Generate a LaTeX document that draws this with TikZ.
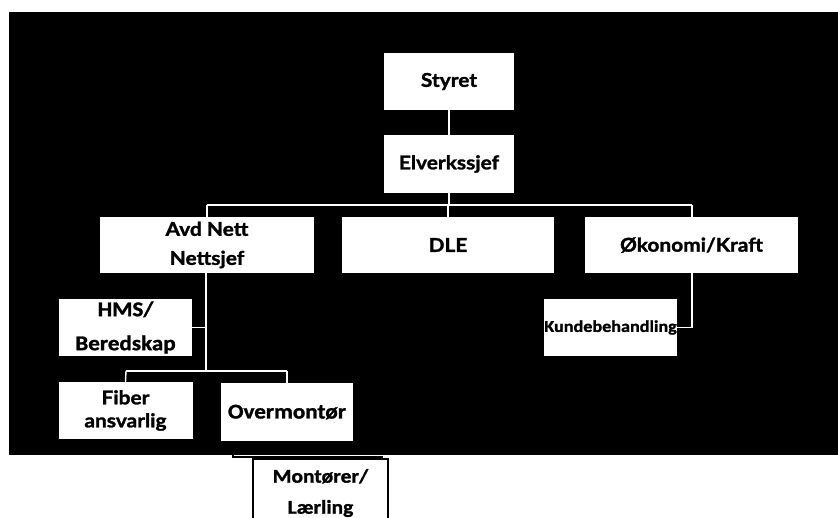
\documentclass[tikz,border=0pt]{standalone}
\usepackage{fontspec}
\setmainfont{Lato}[FakeStretch=1.1,BoldFeatures={FakeBold=1.5}]
\newfontfamily\calib{Carlito}[FakeStretch=1.1,BoldFeatures={FakeBold=1.2}]
\begin{document}
\begin{tikzpicture}[x=1pt,y=1pt,
  box/.style={draw=none,fill=white,rectangle,inner sep=0pt,align=center,
    font=\fontsize{19}{29}\selectfont\bfseries},
  cbox/.style={box,font=\calib\fontsize{21}{34}\selectfont\bfseries},
  link/.style={draw=white,line width=1.4pt},
  blink/.style={draw=black,line width=1.2pt}]
\useasboundingbox (0,0) rectangle (838,518);
\fill[black] (9,63) rectangle (838,506);
\node[box,minimum width=130,minimum height=57] (styret) at (449,436.5) {Styret};
\node[box,minimum width=130,minimum height=58] (elv) at (449,354) {Elverkssjef};
\node[box,minimum width=214,minimum height=56] (avd) at (207,273) {Avd Nett\\Nettsjef};
\node[box,minimum width=212,minimum height=56] (dle) at (448,273) {DLE};
\node[box,minimum width=213,minimum height=56] (oko) at (691.5,273) {Økonomi/Kraft};
\node[cbox,minimum width=133,minimum height=57] (hms) at (125.5,190.5) {HMS/\\Beredskap};
\node[cbox,font=\calib\fontsize{16.5}{20}\selectfont\bfseries,minimum width=131,minimum height=57] (kunde) at (610.5,190.5) {Kundebehandling};
\node[box,font=\fontsize{19}{23}\selectfont\bfseries,minimum width=134,minimum height=57] (fiber) at (125.5,107.5) {Fiber\\ansvarlig};
\node[cbox,minimum width=132,minimum height=58] (over) at (287,106) {Overmontør};
\node[cbox,font=\calib\fontsize{19.5}{31}\selectfont\bfseries,draw=black,line width=1.4pt,minimum width=135,minimum height=68] (mont) at (320.5,25) {Montører/\\Lærling};
\coordinate (bus) at (449,313);
\coordinate (busL) at (207,313);
\coordinate (busR) at (692,313);
\coordinate (trunk) at (206,147);
\coordinate (subL) at (126,147);
\coordinate (subR) at (287,147);
\draw[link] (styret.south) -- (elv.north);
\draw[link] (elv.south) -- (bus);
\draw[link] (busL) -- (busR);
\draw[link] (busL) -- (avd.north);
\draw[link] (dle.north |- bus) -- (dle.north);
\draw[link] (busR) -- (busR |- oko.north);
\draw[link] (avd.south -| trunk) -- (trunk);
\draw[link] (hms.east) -- (hms.east -| trunk);
\draw[link] (subL) -- (subR);
\draw[link] (subL) -- (fiber.north);
\draw[link] (subR) -- (over.north);
\draw[link] (oko.south -| busR) |- (kunde.east);
\coordinate (oc) at (233,61);
\draw[blink] (over.south -| oc) -- (oc) -- ++(150,0);
\end{tikzpicture}
\end{document}
